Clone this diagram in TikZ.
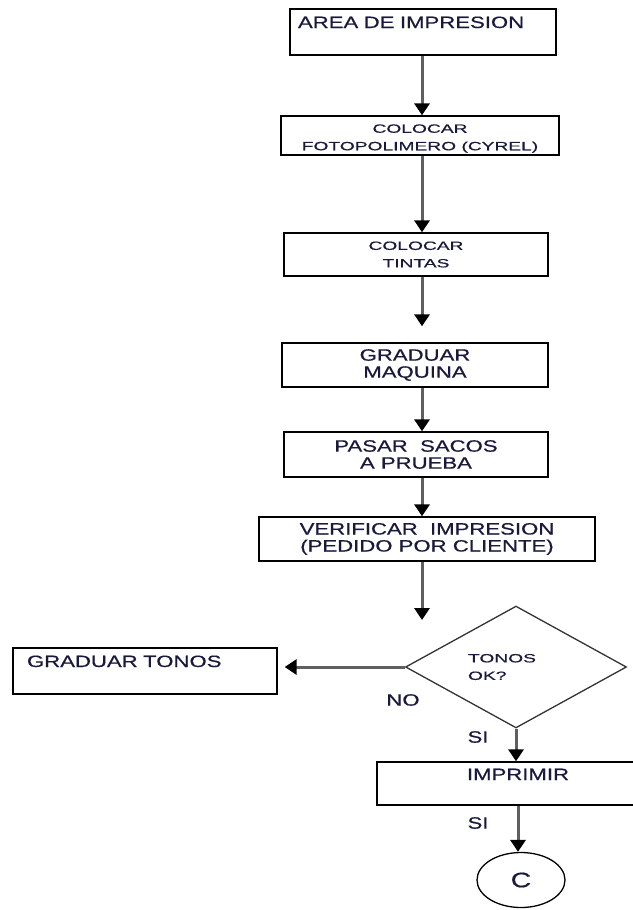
\documentclass[tikz,border=0pt]{standalone}
\usepackage{fontspec}
\usetikzlibrary{shapes.geometric,arrows.meta}
\setmainfont{Liberation Sans}
\newfontfamily\bigfont{Liberation Sans}[FakeStretch=1.35,FakeBold=0.6]
\newfontfamily\smallfont{Liberation Sans}[FakeStretch=1.6,FakeBold=0.6]
\definecolor{ink}{RGB}{25,25,60}
\definecolor{shaft}{RGB}{95,95,95}
\begin{document}
\begin{tikzpicture}[x=1pt, y=-1pt,
  box/.style={draw, line width=1.3pt, inner sep=0pt, text=ink, align=center,
    font=\bigfont\fontsize{16.4}{17}\selectfont},
  smalltext/.style={font=\smallfont\fontsize{12}{17.5}\selectfont},
  topleft/.style={align=left, inner xsep=#1, inner ysep=4pt,
    text height=15pt, text depth=23pt},
  flow/.style={draw=shaft, line width=3pt,
    -{Triangle[width=15pt,length=12pt,color=black]}},
  lbl/.style={text=ink, font=\bigfont\fontsize{16.4}{17}\selectfont}]
  \useasboundingbox (0,0) rectangle (632,910);
  \coordinate (spine) at (422,0);

  \node[box, topleft=8pt, text width=250pt] (area) at (423,32) {AREA DE IMPRESION};
  \node[box, smalltext, minimum width=278pt, minimum height=39pt, text height=32pt]
    (foto) at (420,135.5) {COLOCAR\\FOTOPOLIMERO (CYREL)};
  \node[box, smalltext, minimum width=264pt, minimum height=43pt] (tintas) at (416,254.5)
    {COLOCAR\\TINTAS};
  \node[box, minimum width=266pt, minimum height=44pt] (maquina) at (415,365)
    {GRADUAR\\MAQUINA};
  \node[box, minimum width=264pt, minimum height=45pt] (sacos) at (416,454.5)
    {PASAR\ \ SACOS\\A PRUEBA};
  \node[box, minimum width=336pt, minimum height=44pt] (verif) at (427,539)
    {VERIFICAR\ \ IMPRESION\\(PEDIDO POR CLIENTE)};
  \node[draw=black!80, diamond, line width=1.3pt, minimum width=221pt, minimum height=91pt,
    inner sep=0pt, smalltext, text=ink, align=left] (tonos) at (516,667)
    {TONOS\hspace*{28pt}\\OK?};
  \node[box, topleft=14pt, text width=236pt] (gtonos) at (145,671) {GRADUAR TONOS};
  \node[box, minimum width=282pt, inner ysep=4pt, text height=14pt, text depth=21pt]
    (imprimir) at (518,783.5) {IMPRIMIR};
  \node[draw, ellipse, line width=1.3pt, minimum width=88pt, minimum height=55pt,
    inner sep=0pt, text=ink, font=\bigfont\fontsize{21}{21}\selectfont] (c) at (521,880) {C};

  \coordinate (maqin) at ([yshift=16pt]spine |- maquina.north);
  \coordinate (tonin) at (422,620);
  \draw[flow] (spine |- area.south) -- (spine |- foto.north);
  \draw[flow] (spine |- foto.south) -- (spine |- tintas.north);
  \draw[flow] (spine |- tintas.south) -- (maqin);
  \draw[flow] (spine |- maquina.south) -- (spine |- sacos.north);
  \draw[flow] (spine |- sacos.south) -- (spine |- verif.north);
  \draw[flow] (spine |- verif.south) -- (tonin);
  \draw[flow] (tonos.west) -- ([xshift=7pt]gtonos.east |- tonos.west);
  \draw[flow] (tonos.south) -- (tonos.south |- imprimir.north);
  \draw[flow] (imprimir.south) -- (imprimir.south |- c.north);

  \node[lbl] (no) at (403,700) {NO};
  \node[lbl] (si1) at (478,737) {SI};
  \node[lbl] (si2) at (478,823) {SI};
\end{tikzpicture}
\end{document}
